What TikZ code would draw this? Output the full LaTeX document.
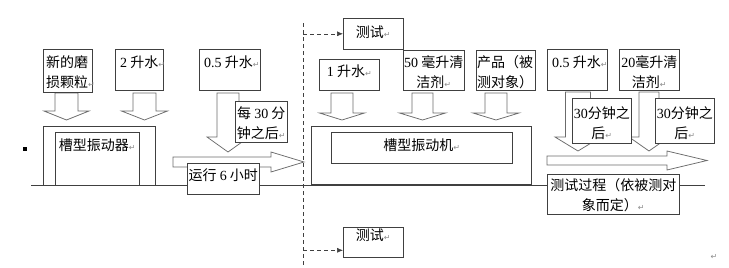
\documentclass[tikz,border=0pt]{standalone}
\usepackage{fontspec}
\setmainfont{Liberation Serif}
\newfontfamily\cjk{Noto Sans CJK SC}
\newfontfamily\symfont{DejaVu Sans}
\usetikzlibrary{positioning,arrows.meta}

\definecolor{boxgray}{gray}{0.25}
\definecolor{blkgray}{gray}{0.42}
\definecolor{markgray}{gray}{0.55}

\newcommand{\retmark}{{\color{markgray}\fontsize{8}{8}\selectfont\symfont ↵}}
% block arrow pointing down: centre x, top y, shaft half, head half, head base y, tip y
\newcommand{\blkdown}[6]{%
  \draw[blk] (#1-#3,#2) -- (#1+#3,#2) -- (#1+#3,#5) -- (#1+#4,#5) -- (#1,#6)
    -- (#1-#4,#5) -- (#1-#3,#5) -- cycle;}
% block arrow pointing right: start x, centre y, shaft half, head half, head base x, tip x
\newcommand{\blkright}[6]{%
  \draw[blk] (#1,#2-#3) -- (#5,#2-#3) -- (#5,#2-#4) -- (#6,#2) -- (#5,#2+#4)
    -- (#5,#2+#3) -- (#1,#2+#3) -- cycle;}

\tikzset{
  tbox/.style={draw=boxgray, line width=0.6pt, fill=white, anchor=north west, inner sep=0pt},
  txt/.style={font=\cjk\fontsize{14}{20}\selectfont, inner sep=0pt, align=center},
  blk/.style={draw=blkgray, line width=0.75pt, fill=white},
  cutline/.style={draw=boxgray, line width=0.6pt, dash pattern=on 4pt off 3pt},
}

\begin{document}
\begin{tikzpicture}[x=1pt, y=-1pt]
  \useasboundingbox (0,0) rectangle (729,268);

  % Bullet and ground line
  \fill[black] (23,147) rectangle (27,151);
  \coordinate (gl-l) at (31,185);
  \coordinate (gl-r) at (705,185);
  \draw[boxgray, line width=0.7pt] (gl-l) -- (gl-r);

  % Stage 1: running in
  \blkdown{66.5}{93}{11.5}{22.5}{111}{120}
  \blkdown{144.5}{93}{11.5}{23}{111}{120}
  \blkdown{228}{93}{11}{21}{137}{152}
  \blkright{173}{162}{5}{10}{271}{304}

  \node[tbox, minimum width=49pt, minimum height=43pt] (grain) at (43,49) {};
  \node[txt, align=left, below right=6.5pt and 3pt of grain.north west] (grain-t) {新的磨\\损颗粒\retmark};
  \node[tbox, minimum width=48pt, minimum height=41pt] (water2) at (115,49) {};
  \node[txt, below right=6.5pt and 5pt of water2.north west] (water2-t) {{\rmfamily 2} 升水\retmark};
  \node[tbox, minimum width=61pt, minimum height=41pt] (water05a) at (199,49) {};
  \node[txt, below right=6.5pt and 5pt of water05a.north west] (water05a-t) {{\rmfamily 0.5} 升水\retmark};
  \node[tbox, minimum width=52pt, minimum height=41pt] (every30) at (235,101) {};
  \node[txt, below=5.5pt of every30.north] (every30-t) {每 {\rmfamily 30} 分\\钟之后\retmark};

  \node[tbox, minimum width=112pt, minimum height=59pt] (vib1) at (43,126) {};
  \node[tbox, minimum width=84pt, minimum height=53pt] (vib1-in) at (55,132) {};
  \node[txt, below=6.5pt of vib1-in.north] (vib1-t) {槽型振动器\retmark};
  \node[tbox, minimum width=72pt, minimum height=31pt] (run6) at (187,163) {};
  \node[txt, below=5.5pt of run6.north] (run6-t) {运行 {\rmfamily 6} 小时};

  % Cut between stages, with the two tests
  \coordinate (cut-top) at (303,23);
  \coordinate (cut-bot) at (303,268);
  \draw[cutline] (cut-top) -- (cut-bot);
  \node[tbox, minimum width=60pt, minimum height=31pt] (testtop) at (343,18) {};
  \node[txt, below=7.5pt of testtop.north] (testtop-t) {测试\retmark};
  \node[tbox, minimum width=60pt, minimum height=30pt] (testbot) at (343,227) {};
  \node[txt, below=1.5pt of testbot.north] (testbot-t) {测试\retmark};
  \coordinate (testbot-in) at ([yshift=-8pt]testbot.west);
  \draw[cutline, -{Latex[length=6pt, width=5pt]}] (cut-top |- testtop.west) -- (testtop.west);
  \draw[cutline, -{Latex[length=6pt, width=5pt]}] (cut-top |- testbot-in) -- (testbot-in);

  % Stage 2: test run
  \blkdown{342}{93}{11}{22.5}{113}{120}
  \blkdown{422.5}{93}{10.5}{23}{113}{120}
  \blkdown{496}{93}{11}{23}{113}{120}

  \node[tbox, minimum width=60pt, minimum height=31pt] (water1) at (319,59) {};
  \node[txt, below=5.5pt of water1.north] (water1-t) {{\rmfamily 1} 升水\retmark};
  \node[tbox, minimum width=61pt, minimum height=40pt] (clean50) at (403,50) {};
  \node[txt, below=5.5pt of clean50.north] (clean50-t) {{\rmfamily 50} 毫升清\\洁剂\retmark};
  \node[tbox, minimum width=59pt, minimum height=40pt] (product) at (476,50) {};
  \node[txt, align=left, below right=5.5pt and 1pt of product.north west] (product-t) {产品（被\\测对象）};

  \node[tbox, minimum width=220pt, minimum height=58pt] (vib2) at (311,126) {};
  \node[tbox, minimum width=181pt, minimum height=31pt] (vib2-in) at (331,132) {};
  \node[txt, below=6.5pt of vib2-in.north] (vib2-t) {槽型振动机\retmark};

  % Stage 3: testing process
  \blkdown{578}{92}{12.5}{23}{137}{151}
  \blkdown{649}{92}{10}{20}{137}{151}
  \blkright{547}{160.5}{4.5}{9.5}{667}{707}

  \node[tbox, minimum width=60pt, minimum height=41pt] (water05b) at (547,49) {};
  \node[txt, below right=6.5pt and 5pt of water05b.north west] (water05b-t) {{\rmfamily 0.5} 升水\retmark};
  \node[tbox, minimum width=60pt, minimum height=41pt] (clean20) at (619,49) {};
  \node[txt, below=6.5pt of clean20.north] (clean20-t) {{\rmfamily 20}毫升清\\洁剂\retmark};
  \node[tbox, minimum width=59pt, minimum height=45pt] (after30a) at (572,98) {};
  \node[txt, below=8.5pt of after30a.north] (after30a-t) {{\rmfamily 30}分钟之\\后\retmark};
  \node[tbox, minimum width=59pt, minimum height=45pt] (after30b) at (655,98) {};
  \node[txt, below=8.5pt of after30b.north] (after30b-t) {{\rmfamily 30}分钟之\\后\retmark};
  \node[tbox, minimum width=132pt, minimum height=40pt] (testproc) at (547,174) {};
  \node[txt, below=4.5pt of testproc.north] (testproc-t) {测试过程（依被测对\\象而定）\retmark};

  \node[inner sep=0pt] (endmark) at (714,257) {\retmark};
\end{tikzpicture}
\end{document}
